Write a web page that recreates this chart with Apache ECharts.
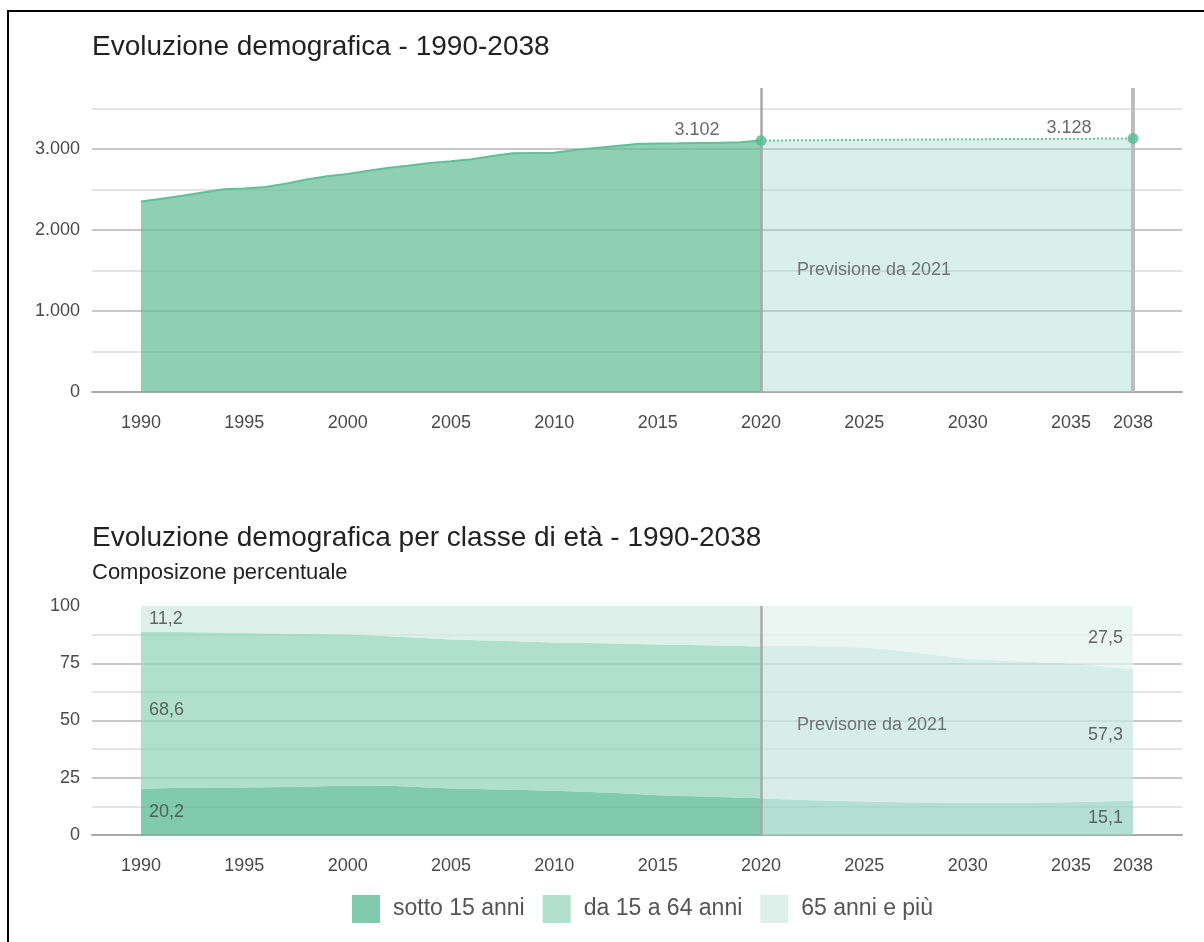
<!DOCTYPE html>
<html>
<head>
<meta charset="utf-8">
<title>Evoluzione demografica</title>
<script src="https://cdn.jsdelivr.net/npm/echarts@6/dist/echarts.min.js"></script>
<style>
  html, body { margin: 0; padding: 0; background: #fff; }
  #chart { width: 1204px; height: 942px; }
  #frame { position: absolute; left: 7px; top: 10px; right: 0; bottom: 0; border-left: 2px solid #000; border-top: 2px solid #000; pointer-events: none; }
</style>
</head>
<body>
<div id="chart"></div>
<div id="frame"></div>
<script>
// popolazione totale (storico + previsione)
const histYears = [1990, 1991, 1992, 1993, 1994, 1995, 1996, 1997, 1998, 1999, 2000, 2001, 2002, 2003, 2004, 2005,
  2006, 2007, 2008, 2009, 2010, 2011, 2012, 2013, 2014, 2015, 2016, 2017, 2018, 2019, 2020];
const histPop = [2350, 2385, 2420, 2460, 2500, 2510, 2530, 2570, 2620, 2660, 2690, 2730, 2765, 2795, 2825, 2845,
  2870, 2910, 2945, 2948, 2950, 2985, 3010, 3035, 3060, 3065, 3068, 3072, 3076, 3082, 3102];
const fcYears = [2020, 2025, 2030, 2035, 2038];
const fcPop = [3102, 3110, 3118, 3124, 3128];
const xTicks = [1990, 1995, 2000, 2005, 2010, 2015, 2020, 2025, 2030, 2035, 2038];

// composizione percentuale per classe di età
const ageNames = ['sotto 15 anni', 'da 15 a 64 anni', '65 anni e più'];
const ageHistYears = [1990, 1992, 1995, 1998, 2000, 2002, 2005, 2008, 2010, 2013, 2015, 2018, 2020];
const under15Hist = [20.2, 20.6, 20.7, 21.1, 21.6, 21.5, 20.3, 19.8, 19.3, 18.3, 17.4, 16.6, 16.1];
const mid15to64Hist = [68.6, 68.0, 67.5, 66.7, 66.0, 65.3, 65.1, 64.8, 64.8, 65.3, 65.8, 66.1, 66.2];
const over65Hist = [11.2, 11.4, 11.8, 12.2, 12.4, 13.2, 14.6, 15.4, 15.9, 16.4, 16.8, 17.3, 17.7];
const ageFcYears = [2020, 2022, 2024, 2026, 2028, 2030, 2032, 2034, 2036, 2038];
const under15Fc = [16.0, 15.3, 14.8, 14.4, 14.2, 14.1, 14.1, 14.2, 14.5, 15.1];
const mid15to64Fc = [66.5, 67.2, 67.5, 66.8, 64.8, 62.9, 61.9, 61.0, 59.6, 57.3];
const over65Fc = [17.5, 17.5, 17.7, 18.8, 21.0, 23.0, 24.0, 24.8, 25.9, 27.5];

const FONT = '"Liberation Sans", Arial, sans-serif';
const fmtThousands = v => String(v).replace(/\B(?=(\d{3})+(?!\d))/g, '.');
const fmtDec = v => v.toFixed(1).replace('.', ',');
const pairs = (xs, ys) => xs.map((x, i) => [x, ys[i]]);
const last = arr => arr[arr.length - 1];

// one category per year, used by the stacked chart
const yearCats = [];
for (let y = ageHistYears[0]; y <= last(ageFcYears); y++) yearCats.push(String(y));

const histColors = ['#80cbad', '#b0e0cd', '#deefe9'];
const histFill = ['rgba(86,186,146,0.75)', 'rgba(150,214,188,0.75)', 'rgba(211,235,227,0.75)'];
const fcFill = ['rgba(155,214,198,0.75)', 'rgba(200,231,224,0.75)', 'rgba(228,243,239,0.75)'];

const xAxisBase = gridIndex => ({
  type: 'value',
  gridIndex,
  min: 1987.63,
  max: 2040.37,
  axisLine: { lineStyle: { color: '#aaa', width: 2 } },
  axisTick: { show: false },
  splitLine: { show: false },
  axisLabel: {
    customValues: xTicks,
    formatter: v => String(v),
    color: '#4a4a4a',
    fontSize: 18,
    fontFamily: FONT,
    margin: 22
  }
});

const yAxisBase = (gridIndex, max, interval, labelStep, fmt) => ({
  type: 'value',
  gridIndex,
  min: 0,
  max,
  interval,
  axisLine: { show: false },
  axisTick: { show: false },
  axisLabel: {
    formatter: v => (v % labelStep === 0 ? fmt(v) : ''),
    color: '#4a4a4a',
    fontSize: 18,
    fontFamily: FONT,
    margin: 12
  },
  splitLine: {
    showMaxLine: false,
    lineStyle: { color: ['#c8c8c8', '#e4e4e4'], width: 2 }
  }
});

const stacked = (years, rows, fills, stack) => ageNames.map((name, i) => ({
  name,
  type: 'line',
  xAxisIndex: 2,
  yAxisIndex: 2,
  stack,
  symbol: 'none',
  color: histColors[i],
  lineStyle: { width: 0 },
  areaStyle: { color: fills[i], opacity: 1 },
  data: pairs(years.map(String), rows[i]),
  z: 2
}));

const bandLabels = (year, [u, m, o]) =>
  [[String(year), u / 2, u], [String(year), u + m / 2, m], [String(year), u + m + o / 2, o]];

const fcSeries = stacked(ageFcYears, [under15Fc, mid15to64Fc, over65Fc], fcFill, 'previsione');
fcSeries[2].markLine = {
  silent: true,
  symbol: ['none', 'none'],
  label: { show: false },
  data: [{ xAxis: '2020', lineStyle: { color: '#a8a8a8', width: 2.5, type: 'solid' } }]
};

const chart = echarts.init(document.getElementById('chart'));

chart.setOption({
  animation: false,
  backgroundColor: '#fff',
  title: [
    {
      text: 'Evoluzione demografica - 1990-2038',
      left: 92, top: 33, padding: 0,
      textStyle: { fontSize: 28, fontWeight: 'normal', color: '#222', fontFamily: FONT }
    },
    {
      text: 'Evoluzione demografica per classe di età - 1990-2038',
      left: 92, top: 524, padding: 0,
      textStyle: { fontSize: 28, fontWeight: 'normal', color: '#222', fontFamily: FONT }
    },
    {
      text: 'Composizone percentuale',
      left: 92, top: 562, padding: 0,
      textStyle: { fontSize: 22, fontWeight: 'normal', color: '#222', fontFamily: FONT }
    }
  ],
  legend: {
    data: ageNames,
    left: 347,
    top: 890,
    icon: 'rect',
    itemWidth: 28,
    itemHeight: 28,
    itemGap: 18,
    textStyle: { fontSize: 23, color: '#555', fontFamily: FONT, padding: [0, 0, 0, 8] }
  },
  grid: [
    { left: 92, right: 22, top: 88, height: 304 },
    { left: 92, right: 22, top: 606, height: 229 },
    // narrow grid spanning 1990-2038 exactly, for the stacked areas
    { left: 141, right: 71, top: 606, height: 229 }
  ],
  xAxis: [
    xAxisBase(0),
    xAxisBase(1),
    {
      type: 'category',
      gridIndex: 2,
      data: yearCats,
      boundaryGap: false,
      axisLine: { show: false },
      axisTick: { show: false },
      axisLabel: { show: false },
      splitLine: { show: false }
    }
  ],
  yAxis: [
    yAxisBase(0, 3750, 500, 1000, fmtThousands),
    yAxisBase(1, 100, 12.5, 25, v => String(v)),
    { type: 'value', gridIndex: 2, min: 0, max: 100, show: false, splitLine: { show: false } }
  ],
  series: [
    {
      name: 'Popolazione',
      type: 'line',
      symbol: 'none',
      data: pairs(histYears, histPop),
      lineStyle: { color: '#62bf98', width: 2 },
      areaStyle: { color: 'rgba(100,190,150,0.72)', opacity: 1 },
      z: 2
    },
    {
      name: 'Previsione',
      type: 'line',
      symbol: 'none',
      data: pairs(fcYears, fcPop),
      lineStyle: { color: '#6cc4a0', width: 2, type: 'dotted' },
      areaStyle: { color: 'rgba(160,215,200,0.4)', opacity: 1 },
      z: 2,
      markLine: {
        silent: true,
        symbol: ['none', 'none'],
        label: { show: false },
        data: [
          { xAxis: 2020, lineStyle: { color: '#a8a8a8', width: 2.5, type: 'solid' } },
          { xAxis: 2038, lineStyle: { color: '#bdbdbd', width: 4, type: 'solid' } }
        ]
      }
    },
    {
      name: 'Punti',
      type: 'scatter',
      symbolSize: 11,
      itemStyle: { color: '#55bb92' },
      data: [[last(histYears), last(histPop)], [last(fcYears), last(fcPop)]],
      label: {
        show: true,
        position: 'left',
        distance: 36,
        offset: [0, -10],
        formatter: p => fmtThousands(p.value[1]),
        fontSize: 18,
        color: '#444',
        fontFamily: FONT
      },
      z: 5
    },
    {
      name: 'Nota',
      type: 'scatter',
      symbolSize: 0,
      silent: true,
      data: [[2020, 1500]],
      label: {
        show: true,
        position: 'right',
        distance: 36,
        formatter: 'Previsione da 2021',
        fontSize: 18,
        color: '#555',
        fontFamily: FONT
      },
      z: 5
    },
    ...stacked(ageHistYears, [under15Hist, mid15to64Hist, over65Hist], histFill, 'storico'),
    ...fcSeries,
    {
      name: 'Etichette inizio',
      type: 'scatter',
      xAxisIndex: 2,
      yAxisIndex: 2,
      symbolSize: 0,
      silent: true,
      data: bandLabels(ageHistYears[0], [under15Hist[0], mid15to64Hist[0], over65Hist[0]]),
      label: {
        show: true, position: 'right', distance: 8,
        formatter: p => fmtDec(p.value[2]),
        fontSize: 18, color: '#444', fontFamily: FONT
      },
      z: 5
    },
    {
      name: 'Etichette fine',
      type: 'scatter',
      xAxisIndex: 2,
      yAxisIndex: 2,
      symbolSize: 0,
      silent: true,
      data: bandLabels(last(ageFcYears), [last(under15Fc), last(mid15to64Fc), last(over65Fc)]),
      label: {
        show: true, position: 'left', distance: 10,
        formatter: p => fmtDec(p.value[2]),
        fontSize: 18, color: '#444', fontFamily: FONT
      },
      z: 5
    },
    {
      name: 'Nota 2',
      type: 'scatter',
      xAxisIndex: 2,
      yAxisIndex: 2,
      symbolSize: 0,
      silent: true,
      data: [['2020', 48]],
      label: {
        show: true, position: 'right', distance: 36,
        formatter: 'Previsone da 2021',
        fontSize: 18, color: '#555', fontFamily: FONT
      },
      z: 5
    }
  ]
});
</script>
</body>
</html>
